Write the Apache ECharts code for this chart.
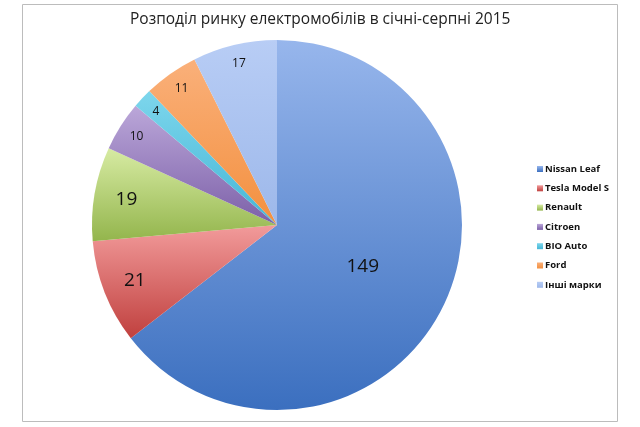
<!DOCTYPE html>
<html>
<head>
    <meta charset="UTF-8">
    <title>Розподіл ринку електромобілів</title>
    <script src="https://cdn.jsdelivr.net/npm/echarts@6/dist/echarts.min.js"></script>
    <style type="text/css">
        html, body { margin: 0; padding: 0; background: #fff; }
        #main { width: 640px; height: 427px; }
    </style>
</head>
<body>
<div id="main"></div>
<script>
// дані діаграми
var brands = ['Nissan Leaf', 'Tesla Model S', 'Renault', 'Citroen', 'BIO Auto', 'Ford', 'Інші марки'];
var sales = [149, 21, 19, 10, 4, 11, 17];

// кольори градієнтів (верх, низ)
var topColors = ['#97b6ec', '#f29b9b', '#d7eba3', '#bba7d9', '#7dd6ec', '#fab07a', '#b8cdf5'];
var bottomColors = ['#3b6fbf', '#c0403e', '#93b54c', '#7c60a8', '#45b6d6', '#f3903f', '#9db8ea'];

var cx = 277, cy = 225, r = 185;

// де стоїть підпис (частка радіуса)
function labelRatio(v) {
    if (v > 100) return 0.5;
    if (v >= 19) return 0.8;
    return 0.87;
}

var items = [];
for (var i = 0; i < brands.length; i++) {
    var big = sales[i] >= 19;
    items.push({
        name: brands[i],
        value: sales[i],
        itemStyle: {
            color: new echarts.graphic.LinearGradient(0, 0, 0, 1, [
                {offset: 0, color: topColors[i]},
                {offset: 1, color: bottomColors[i]}
            ])
        },
        label: { fontSize: big ? 19 : 12 }
    });
}

var myChart = echarts.init(document.getElementById('main'));
myChart.setOption({
    animation: false,
    title: {
        text: 'Розподіл ринку електромобілів в січні-серпні 2015',
        left: 125,
        top: 7,
        textStyle: {
            fontFamily: 'Open Sans',
            fontSize: 15.5,
            fontWeight: 'normal',
            color: '#222'
        }
    },
    graphic: [{
        type: 'rect',
        shape: { x: 22.5, y: 4.5, width: 595, height: 417 },
        style: { fill: 'none', stroke: '#bcbcbc', lineWidth: 1 },
        z: -1
    }],
    legend: {
        orient: 'vertical',
        left: 532,
        top: 159,
        icon: 'rect',
        itemWidth: 6,
        itemHeight: 6,
        itemGap: 9.3,
        data: brands,
        textStyle: {
            fontFamily: 'Open Sans',
            fontSize: 9.5,
            fontWeight: 'bold',
            color: '#111',
            padding: [0, 0, 0, -3]
        },
        itemStyle: { borderWidth: 0 }
    },
    series: [{
        type: 'pie',
        center: [cx, cy],
        radius: r,
        startAngle: 90,
        clockwise: true,
        avoidLabelOverlap: false,
        itemStyle: { borderWidth: 0 },
        label: {
            show: true,
            position: 'inside',
            formatter: '{c}',
            fontFamily: 'Open Sans',
            color: '#111'
        },
        labelLine: { show: false },
        labelLayout: function (params) {
            var lr = params.labelRect;
            var lx = lr.x + lr.width / 2, ly = lr.y + lr.height / 2;
            var k = labelRatio(sales[params.dataIndex]) / 0.5 - 1;
            return { dx: (lx - cx) * k, dy: (ly - cy) * k };
        },
        emphasis: { disabled: true },
        data: items
    }]
});
</script>
</body>
</html>
